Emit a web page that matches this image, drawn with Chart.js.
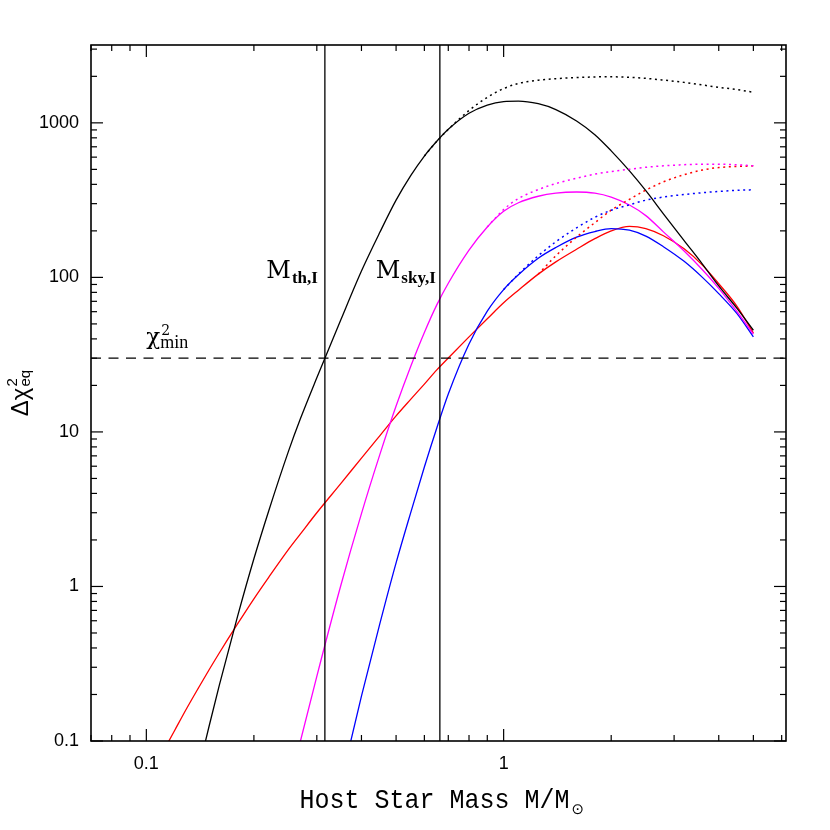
<!DOCTYPE html>
<html><head><meta charset="utf-8">
<script src="https://cdn.jsdelivr.net/npm/chart.js@4.4.1/dist/chart.umd.min.js"></script>
<style>html,body{margin:0;padding:0;background:#fff;}#wrap{width:830px;height:830px;}</style>
</head><body><div id="wrap"><canvas id="c" width="830" height="830"></canvas></div>
<script>
// Host star mass grid (M / M_sun)
const mass = [0.11, 0.12, 0.13, 0.14, 0.15, 0.16, 0.18, 0.2, 0.22, 0.25, 0.27, 0.3, 0.35, 0.4, 0.45, 0.5, 0.55, 0.6, 0.65, 0.7, 0.8, 0.9, 1.0, 1.1, 1.25, 1.4, 1.6, 1.8, 2.0, 2.25, 2.5, 2.8, 3.2, 3.6, 4.0, 4.5, 5.0];
// Delta chi^2_eq curves (solid and dotted)
const blackSolid = [null, null, null, 0.065, 0.126, 0.229, 0.64, 1.51, 3.08, 7.51, 12.2, 22.4, 53, 110, 195, 316, 457, 610, 760, 908, 1153, 1303, 1374, 1384, 1330, 1219, 1028, 838, 659, 489, 364, 258, 173, 122, 88, 63, 45.5];
const blackDotted = [null, null, null, null, null, null, null, null, null, null, null, null, null, null, null, null, null, 610, 760, 908, 1202, 1462, 1667, 1799, 1888, 1932, 1963, 1982, 1986, 1972, 1941, 1892, 1828, 1758, 1698, 1641, 1578];
const magentaSolid = [null, null, null, null, null, null, null, null, null, 0.048, 0.1, 0.262, 1.01, 2.96, 7.1, 14.7, 26.7, 44, 66.4, 91.6, 150, 212, 268, 304, 335, 351, 357, 351, 331, 294, 251, 197, 148, 112, 85, 60, 42.9];
const magentaDotted = [null, null, null, null, null, null, null, null, null, null, null, null, null, null, null, null, null, null, null, null, null, 212, 275, 324, 370, 405, 438, 466, 484, 501, 516, 527, 536, 540, 540, 535, 527];
const blueSolid = [null, null, null, null, null, null, null, null, null, null, null, null, 0.053, 0.195, 0.57, 1.42, 3.03, 5.93, 10.6, 17.6, 37.1, 60.5, 83.4, 104, 133, 156, 182, 198, 207, 202, 185, 158, 127, 100, 78.5, 58.2, 41.2];
const blueDotted = [null, null, null, null, null, null, null, null, null, null, null, null, null, null, null, null, null, null, null, null, null, null, 83.4, 105, 138, 170, 209, 245, 272, 295, 316, 331, 344, 353, 360, 366, 369];
const redSolid = [0.081, 0.117, 0.164, 0.221, 0.290, 0.371, 0.572, 0.832, 1.146, 1.738, 2.19, 3.0, 4.63, 6.77, 9.44, 12.7, 16.3, 20.4, 25.2, 30.1, 41.2, 54, 68.5, 82.6, 105, 126, 152, 178, 200, 214, 207, 186, 153, 120, 91, 65, 43.6];
const redDotted = [null, null, null, null, null, null, null, null, null, null, null, null, null, null, null, null, null, null, null, null, null, null, null, null, 105, 138, 182, 226, 272, 320, 367, 415, 462, 495, 514, 522, 527];

// Thresholds
const mTh = 0.316, mSky = 0.663, chi2Min = 30;
// Axis ranges and tick labels
const xRange = [0.07, 6.17];
const yRange = [0.1, 3190];
const xTickLabels = [0.1, 1];
const yTickLabels = [0.1, 1, 10, 100, 1000];

function pts(arr){ return mass.map((m,i)=>({x:m, y:arr[i]})); }
function curve(arr, color, dotted){
  return {data: pts(arr), borderColor: color, borderWidth: dotted ? 1.5 : 1.3, borderDash: dotted ? [2, 3.6] : [],
    pointRadius: 0, fill: false, cubicInterpolationMode: 'monotone', spanGaps: false};
}

const deco = {
  id: 'deco',
  afterDraw(chart){
    const {ctx, chartArea: a, scales: {x, y}} = chart;
    ctx.save();
    ctx.strokeStyle = '#000';
    ctx.lineWidth = 1.2;
    const ln = (x1,y1,x2,y2)=>{ctx.beginPath();ctx.moveTo(x1,y1);ctx.lineTo(x2,y2);ctx.stroke();};
    for (let e = -2; e <= 1; e++) for (let k = 1; k <= 9; k++) {
      const v = k * Math.pow(10, e);
      if (v < xRange[0]*0.999 || v > xRange[1]) continue;
      const px = x.getPixelForValue(v), L = k === 1 ? 12 : 6;
      ln(px, a.bottom, px, a.bottom - L); ln(px, a.top, px, a.top + L);
    }
    for (let e = -1; e <= 3; e++) for (let k = 1; k <= 9; k++) {
      const v = k * Math.pow(10, e);
      if (v < yRange[0]*0.999 || v > yRange[1]) continue;
      const py = y.getPixelForValue(v), L = k === 1 ? 12 : 6;
      ln(a.left, py, a.left + L, py); ln(a.right, py, a.right - L, py);
    }
    ctx.lineWidth = 1.6;
    ctx.strokeRect(a.left, a.top, a.right - a.left, a.bottom - a.top);

    ctx.fillStyle = '#000';
    ctx.textBaseline = 'alphabetic';
    // chi^2_min label
    let lx = x.getPixelForValue(0.1), ly = y.getPixelForValue(chi2Min) - 14;
    ctx.textAlign = 'left';
    ctx.font = '23px "DejaVu Serif"';
    ctx.fillText('χ', lx, ly);
    let w = ctx.measureText('χ').width;
    ctx.font = '14px "DejaVu Serif"';
    ctx.fillText('2', lx + w + 1, ly - 9);
    ctx.font = '18px "Liberation Serif"';
    ctx.fillText('min', lx + w, ly + 4);

    // threshold labels
    function mLabel(xv, sub, gap){
      const rx = x.getPixelForValue(xv) - gap;
      const by = y.getPixelForValue(100) + 1;
      ctx.textAlign = 'right';
      ctx.font = 'bold 17px "Liberation Serif"';
      ctx.fillText(sub, rx, by + 5);
      const sw = ctx.measureText(sub).width;
      ctx.font = '24px "DejaVu Serif"';
      ctx.fillText('M', rx - sw - 1, by);
    }
    mLabel(mTh, 'th,I', 7);
    mLabel(mSky, 'sky,I', 4);

    // x axis title
    const cx = (a.left + a.right) / 2;
    ctx.textAlign = 'left';
    ctx.font = '25px "Liberation Mono"';
    const t = 'Host Star Mass M/M';
    const tw = ctx.measureText(t).width;
    const x0 = cx + 4 - (tw + 16) / 2;
    ctx.save();
    ctx.translate(x0, 808);
    ctx.scale(1, 1.12);
    ctx.fillText(t, 0, 0);
    ctx.restore();
    ctx.font = '15px "DejaVu Sans"';
    ctx.fillText('⊙', x0 + tw + 2, 814);

    // y axis title
    const cy = (a.top + a.bottom) / 2;
    ctx.save();
    ctx.translate(28, cy);
    ctx.rotate(-Math.PI / 2);
    ctx.font = '24px "Liberation Sans"';
    const wD = ctx.measureText('Δχ').width;
    ctx.font = '15px "Liberation Sans"';
    const wE = ctx.measureText('eq').width;
    const tot = wD + wE + 1;
    ctx.textAlign = 'left';
    ctx.font = '24px "Liberation Sans"';
    ctx.fillText('Δχ', -tot/2, 0);
    ctx.font = '15px "Liberation Sans"';
    ctx.fillText('2', -tot/2 + wD + 1, -11);
    ctx.fillText('eq', -tot/2 + wD + 1, 2);
    ctx.restore();
    ctx.restore();
  }
};

const tickFont = {family: '"Liberation Sans", Arial, sans-serif', size: 18};
new Chart(document.getElementById('c'), {
  type: 'line',
  data: {
    datasets: [
      {data: [{x: mTh, y: yRange[0]}, {x: mTh, y: yRange[1]}], borderColor: '#000', borderWidth: 1.3, pointRadius: 0},
      {data: [{x: mSky, y: yRange[0]}, {x: mSky, y: yRange[1]}], borderColor: '#000', borderWidth: 1.3, pointRadius: 0},
      {data: [{x: xRange[0], y: chi2Min}, {x: xRange[1], y: chi2Min}], borderColor: '#000', borderWidth: 1.3, borderDash: [10, 7.5], pointRadius: 0},
      curve(blackDotted, '#000', true),
      curve(magentaDotted, '#ff00ff', true),
      curve(blueDotted, '#0000ff', true),
      curve(redDotted, '#ff0000', true),
      curve(blackSolid, '#000', false),
      curve(magentaSolid, '#ff00ff', false),
      curve(blueSolid, '#0000ff', false),
      curve(redSolid, '#ff0000', false)
    ]
  },
  options: {
    responsive: false,
    animation: false,
    events: [],
    layout: {padding: {left: 0, top: 45, right: 44, bottom: 0}},
    plugins: {legend: {display: false}, tooltip: {enabled: false}, title: {display: false}},
    scales: {
      x: {
        type: 'logarithmic', min: xRange[0], max: xRange[1],
        grid: {display: false, drawTicks: false}, border: {display: false},
        ticks: {color: '#000', font: tickFont, padding: 12, autoSkip: false, maxRotation: 0,
          callback: (v) => String(v)},
        afterBuildTicks: (s) => { s.ticks = xTickLabels.map(v => ({value: v})); },
        afterFit: (s) => { s.height = 89; s.paddingLeft = 0; s.paddingRight = 0; }
      },
      y: {
        type: 'logarithmic', min: yRange[0], max: yRange[1],
        grid: {display: false, drawTicks: false}, border: {display: false},
        ticks: {color: '#000', font: tickFont, padding: 12, autoSkip: false,
          callback: (v) => String(v)},
        afterBuildTicks: (s) => { s.ticks = yTickLabels.map(v => ({value: v})); },
        afterFit: (s) => { s.width = 91; s.paddingTop = 0; s.paddingBottom = 0; }
      }
    }
  },
  plugins: [deco]
});
</script>
</body></html>
